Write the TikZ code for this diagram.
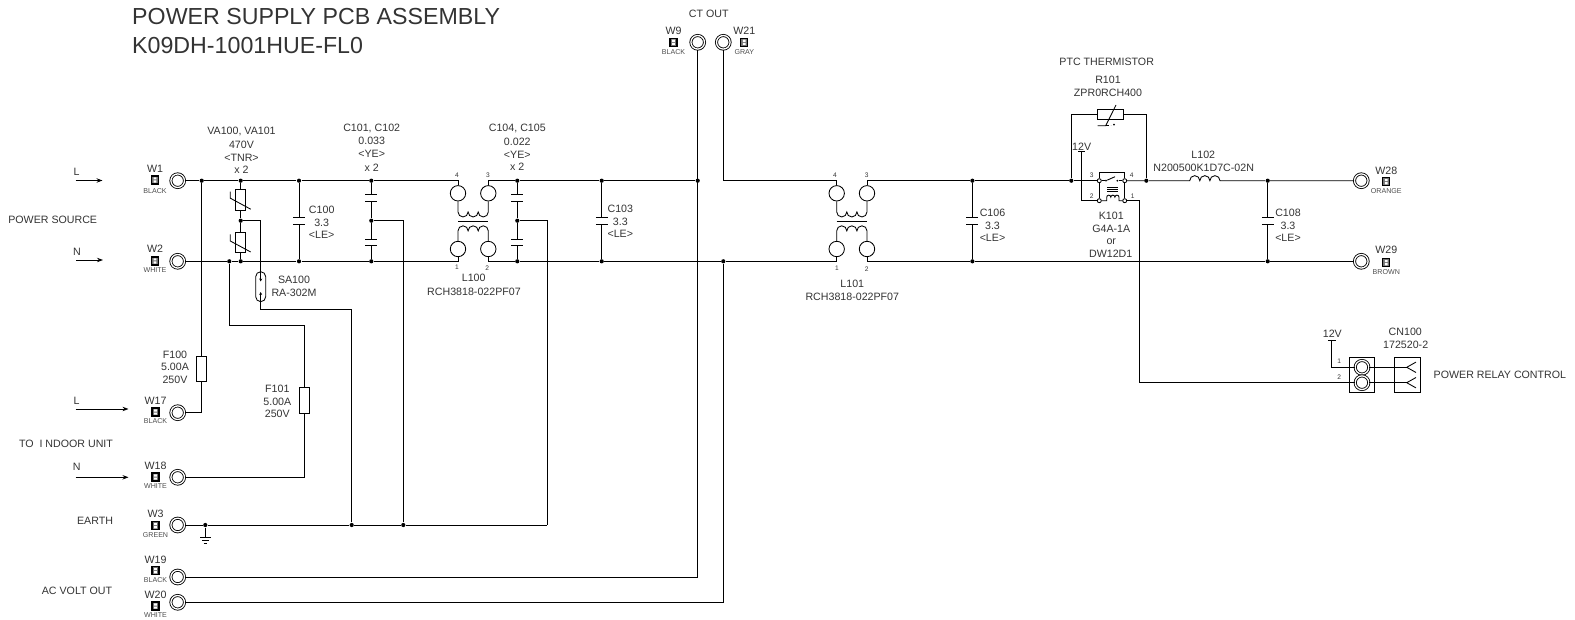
\documentclass[tikz,border=0pt]{standalone}
\usepackage{fontspec}
\setmainfont{Liberation Sans}
\usepackage{tikz}
\usetikzlibrary{
  arrows.meta
}
\tikzset{
  >={Stealth[length=6pt,width=4.4pt]},
  lab/.style = {font=\fontsize{10.65}{12}\selectfont, text=black!80, inner sep=0pt, yshift=-.6pt},
  tinylab/.style = {font=\fontsize{7.1}{8}\selectfont, text=black!70, inner sep=0pt},
  pinlab/.style = {font=\fontsize{6.6}{8}\selectfont, text=black!80, inner sep=0pt},
  titlelab/.style = {font=\fontsize{23.2}{26}\selectfont, text=black!80, inner sep=0pt, anchor=west},
  ring/.style = {circle, draw, fill=white, double, double distance=1.3pt, inner sep=0pt, minimum size=13.6pt},
  choke/.style = {circle, draw, inner sep=0pt, minimum size=15.4pt},
  dot/.style = {circle, fill, inner sep=0pt, minimum size=4.2pt},
  relaypin/.style = {circle, draw, fill=white, inner sep=0pt, minimum size=4pt},
  swpin/.style = {circle, fill, inner sep=0pt, minimum size=2pt},
  tagbox/.style = {rectangle, draw, fill=black!55, line width=1.1pt, inner sep=0pt,
    minimum width=7pt, minimum height=8pt,
    path picture={\fill[white] (path picture bounding box.center) ++(-1.5,-2.6) rectangle ++(2.8,2.1)
      (path picture bounding box.center) ++(-1.5,.5) rectangle ++(2.8,2.1);}},
  fuse/.style = {rectangle, draw, inner sep=0pt, minimum width=10pt, minimum height=25.6pt},
  tnr/.style = {rectangle, draw, inner sep=0pt, minimum width=10.4pt, minimum height=20.6pt},
  ptcbox/.style = {rectangle, draw, inner sep=0pt, minimum width=26pt, minimum height=10pt},
  capsule/.style = {rectangle, draw, rounded corners=5pt, inner sep=0pt, minimum width=10pt, minimum height=30pt},
  capv/.style = {rectangle, inner sep=0pt, minimum width=11pt, minimum height=5.6pt,
    append after command={(\tikzlastnode.north west) edge (\tikzlastnode.north east)
      (\tikzlastnode.south west) edge (\tikzlastnode.south east)}},
  cnbox/.style = {rectangle, draw, inner sep=0pt, minimum width=25.4pt, minimum height=35pt},
}
\newcommand{\wtag}[7]{
  \node[lab] (#1n) at (#2,#3) {#6};
  \node[tagbox] (#1i) at (#2,#4) {};
  \node[tinylab] (#1c) at (#2,#5) {#7};
}
\newcommand{\capnote}[5]{
  \node[lab] (#1a) at (#2,#3-13) {#4};
  \node[lab] (#1b) at (#2,#3) {3.3};
  \node[lab] (#1c) at (#2,#3+12.5) {#5};
}
\newcommand{\humps}{arc[start angle=180,end angle=0,radius=5.05] arc[start angle=180,end angle=0,radius=5.05] arc[start angle=180,end angle=0,radius=5.05]}
\newcommand{\humpsup}{arc[start angle=180,end angle=360,radius=5.05] arc[start angle=180,end angle=360,radius=5.05] arc[start angle=180,end angle=360,radius=5.05]}
\newcommand{\chokewind}[1]{
  \draw (#1a.south) -- ++(0,10.5) \humps -- (#1b.south);
  \draw (#1c.north) -- ++(0,-10) \humpsup -- (#1d.north);
  \draw (#1a) ++(0,27.7) -- ++(30.3,0);
}
\newcommand{\tnrslash}[1]{
  \draw (#1) ++(-10.4,-8) -- ++(0,6.5) -- ++(20.4,11);
}
\begin{document}
\begin{tikzpicture}[x=1pt, y=-1pt, line width=.85pt]
\useasboundingbox (0,0) rectangle (1575,620);
% titles and side notes
\node[titlelab] (title1) at (131.8,17) {POWER SUPPLY PCB ASSEMBLY};
\node[titlelab] (title2) at (131.8,46) {K09DH-1001HUE-FL0};
\node[lab] (source) at (52.7,219.5) {POWER SOURCE};
\node[lab] (indoor) at (66,443) {TO\ \ I NDOOR UNIT};
\node[lab] (earth) at (95,520.5) {EARTH};
\node[lab] (acvolt) at (77,590) {AC VOLT OUT};
\node[lab] (ctout) at (708.7,13.3) {CT OUT};
% input arrows
\node[lab] (l1) at (76.7,171) {L};
\node[lab] (n1l) at (77,251) {N};
\node[lab] (l2) at (76.7,400.5) {L};
\node[lab] (n2l) at (76.7,466.5) {N};
\coordinate (l1s) at (75.5,180.5);
\coordinate (l1e) at (102.5,180.5);
\coordinate (n1s) at (76,260);
\coordinate (n1e) at (103,260);
\coordinate (l2s) at (75.5,409);
\coordinate (l2e) at (128.5,409);
\coordinate (n2s) at (75.5,477.3);
\coordinate (n2e) at (128.5,477.3);
\draw[->] (l1s) -- (l1e);
\draw[->] (n1s) -- (n1e);
\draw[->] (l2s) -- (l2e);
\draw[->] (n2s) -- (n2e);
% terminals
\wtag{t1}{155}{168}{180}{190.7}{W1}{BLACK}
\wtag{t2}{155}{248}{261}{270.3}{W2}{WHITE}
\wtag{t17}{155.5}{400.3}{412}{421}{W17}{BLACK}
\wtag{t18}{155.5}{465.3}{477}{486.3}{W18}{WHITE}
\wtag{t3}{155.5}{513}{525.7}{535.3}{W3}{GREEN}
\wtag{t19}{155.5}{559}{570.7}{580.3}{W19}{BLACK}
\wtag{t20}{155.5}{594.3}{606}{615}{W20}{WHITE}
\wtag{t9}{673.5}{30}{42.3}{52.3}{W9}{BLACK}
\wtag{t21}{744.3}{30}{42.3}{52.3}{W21}{GRAY}
\wtag{t28}{1386.3}{170.3}{181.7}{191}{W28}{ORANGE}
\wtag{t29}{1386.3}{249.3}{262.7}{272.3}{W29}{BROWN}
\node[ring] (w1) at (177.7,180.7) {};
\node[ring] (w2) at (177.7,261.3) {};
\node[ring] (w17) at (177.7,412.7) {};
\node[ring] (w18) at (177.7,477.3) {};
\node[ring] (w3) at (177.7,525) {};
\node[ring] (w19) at (177.7,577) {};
\node[ring] (w20) at (177.7,602.3) {};
\node[ring] (w9) at (697.7,42.3) {};
\node[ring] (w21) at (723.3,42.3) {};
\node[ring] (w28) at (1361.3,180.7) {};
\node[ring] (w29) at (1361.3,261.3) {};
% line junctions
\node[dot] (j1) at (201.7,180.7) {};
\node[dot] (j2) at (240.7,180.7) {};
\node[dot] (j3) at (299,180.7) {};
\node[dot] (j4) at (371.3,180.7) {};
\node[dot] (j5) at (517.3,180.7) {};
\node[dot] (j6) at (601.7,180.7) {};
\node[dot] (j7) at (697.7,180.7) {};
\node[dot] (j8) at (972.4,180.7) {};
\node[dot] (j9) at (1071.3,180.7) {};
\node[dot] (j10) at (1146.3,180.7) {};
\node[dot] (j11) at (1267.7,180.7) {};
\node[dot] (n1) at (229.3,261.3) {};
\node[dot] (n2) at (240.7,261.3) {};
\node[dot] (n3) at (299,261.3) {};
\node[dot] (n4) at (371.3,261.3) {};
\node[dot] (n5) at (517.3,261.3) {};
\node[dot] (n6) at (601.7,261.3) {};
\node[dot] (n7) at (723.3,261.3) {};
\node[dot] (n8) at (972.4,261.3) {};
\node[dot] (n9) at (1267.7,261.3) {};
\node[dot] (vm) at (240.7,220.7) {};
\node[dot] (cm1) at (371.3,220.7) {};
\node[dot] (cm2) at (517.3,220.7) {};
\node[dot] (g1) at (205.3,525) {};
\node[dot] (g2) at (351.7,525) {};
\node[dot] (g3) at (403.3,525) {};
\coordinate (g4) at (547.3,525);
\coordinate (gnd) at (205.3,537.3);
\coordinate (c21) at (723.3,180.7);
\coordinate (f1) at (229.3,325);
\coordinate (sc) at (260.7,309.3);
\coordinate (sa) at (260.7,281.5);
\coordinate (sb) at (260.7,292);
% parts
\node[tnr] (va100) at (240.7,199.7) {};
\node[tnr] (va101) at (240.7,242.5) {};
\node[fuse] (f100) at (201.7,369) {};
\node[fuse] (f101) at (304.7,400.2) {};
\node[capsule] (sa100) at (260.7,286.7) {};
\node[capv] (c100) at (299,221) {};
\node[capv] (c101) at (371.3,198) {};
\node[capv] (c102) at (371.3,242.5) {};
\node[capv] (c104) at (517.3,198) {};
\node[capv] (c105) at (517.3,242.5) {};
\node[capv] (c103) at (601.7,221) {};
\node[capv] (c106) at (972.4,221) {};
\node[capv] (c108) at (1267.7,221) {};
\node[choke] (l100a) at (458,193.3) {};
\node[choke] (l100b) at (488.3,193.3) {};
\node[choke] (l100c) at (458,249) {};
\node[choke] (l100d) at (488.3,249) {};
\node[choke] (l101a) at (836.7,193.3) {};
\node[choke] (l101b) at (867,193.3) {};
\node[choke] (l101c) at (836.7,249) {};
\node[choke] (l101d) at (867,249) {};
\node[ptcbox] (r101) at (1110.7,114.3) {};
\node[relaypin] (k3) at (1099.3,180.7) {};
\node[relaypin] (k4) at (1124.7,180.7) {};
\node[relaypin] (k2) at (1099.3,200.7) {};
\node[relaypin] (k1) at (1124.7,200.7) {};
\node[swpin] (sw1) at (1106,180.7) {};
\node[swpin] (sw2) at (1117.3,180.7) {};
\coordinate (rc1) at (1106.7,200.7);
\coordinate (rc2) at (1119,200.7);
\coordinate (kc) at (1139.3,200.7);
\coordinate (v12a) at (1081.7,151);
\coordinate (v12b) at (1331.7,340);
\coordinate (l102a) at (1189.7,180.7);
\coordinate (l102b) at (1220,180.7);
\node[cnbox] (cn100) at (1362.2,374.8) {};
\node[cnbox] (plug) at (1407.5,374.8) {};
\node[ring] (cn1) at (1362,367.3) {};
\node[ring] (cn2) at (1362,382.7) {};
\coordinate (fk1) at (1406.7,367.3);
\coordinate (fk2) at (1406.7,382.7);
% upper line
\draw (w1) -- (j1) -- (j2) -- (j3) -- (j4) -| (l100a);
\draw (l100b) |- (j5) -- (j6) -- (j7);
\draw (w21) -- (c21) -| (l101a);
\draw (l101b) |- (j8) -- (j9) -- (k3);
\draw (k4) -- (j10) -- (l102a) \humpsup -- (l102b) -- (j11) -- (w28);
% lower line
\draw (w2) -- (n1) -- (n2) -- (n3) -- (n4) -| (l100c);
\draw (l100d) |- (n5) -- (n6) -- (n7) -| (l101c);
\draw (l101d) |- (n8) -- (n9) -- (w29);
% windings
\chokewind{l100}
\chokewind{l101}
% shunt parts
\draw (j2) -- (va100) -- (vm) -- (va101) -- (n2);
\tnrslash{va100}
\tnrslash{va101}
\draw (j3) -- (c100) -- (n3);
\draw (j4) -- (c101) -- (cm1) -- (c102) -- (n4);
\draw (j5) -- (c104) -- (cm2) -- (c105) -- (n5);
\draw (j6) -- (c103) -- (n6);
\draw (j8) -- (c106) -- (n8);
\draw (j11) -- (c108) -- (n9);
% outlets
\draw (j1) -- (f100) |- (w17);
\draw (n1) -- (f1) -| (f101) |- (w18);
\draw (w9) |- (w19);
\draw (n7) |- (w20);
\draw (w3) -- (g1) -- (g2) -- (g3) -- (g4);
\draw (g1) -- (gnd);
\draw (gnd) ++(-5.3,0) -- ++(10.6,0) ++(-8.6,3.4) -- ++(6.6,0) ++(-4.8,2.6) -- ++(3,0);
\draw (cm1) -| (g3);
\draw (cm2) -| (g4);
% surge absorber
\draw[-{Stealth[length=3pt,width=3pt]}] (vm) -| (sa);
\draw[-{Stealth[length=3pt,width=3pt]}] (g2) |- (sc) -- (sb);
% thermistor
\draw (j9) |- (r101);
\draw (r101) -| (j10);
\draw (r101) ++(-13,11.4) -- ++(8,0) -- ++(10.3,-20.7);
\draw[densely dashed] (r101) ++(-5,11.4) -- ++(5,0);
\node[swpin] (r101d) at (1114,124.7) {};
% relay
\draw (k3.north) -- ++(0,-6) -| (k4.north);
\draw (k2) -- (k3);
\draw (k1) -- (k4);
\draw (k3) -- (sw1);
\draw (sw2) -- (k4);
\draw (sw1) -- ++(9,-4);
\draw[line width=.6pt] (1107,187) -- (1118,187) (1107,189.2) -- (1118,189.2) (1107,191.4) -- (1118,191.4);
\draw (k2) -- (rc1) -- ++(0,-3.5) arc[start angle=180,end angle=360,radius=2.05] arc[start angle=180,end angle=360,radius=2.05] arc[start angle=180,end angle=360,radius=2.05] -- (rc2) -- (k1);
\draw (k1) -- (kc) |- (cn2);
% control connector
\draw (v12a) ++(-3.7,0) -- ++(7.4,0);
\draw (v12a) |- (k2);
\draw (v12b) ++(-3.9,0) -- ++(7.8,0);
\draw (v12b) |- (cn1);
\draw (cn1) -- (fk1);
\draw (cn2) -- (fk2);
\draw (fk1) -- ++(9.3,-5.2) (fk1) -- ++(9.3,5.2);
\draw (fk2) -- ++(9.3,-5.2) (fk2) -- ++(9.3,5.2);
% part labels
\node[lab] (va100a) at (241.5,131) {VA100, VA101};
\node[lab] (va100b) at (241.5,144) {470V};
\node[lab] (va100c) at (241.5,157.3) {<TNR>};
\node[lab] (va100d) at (241.5,169.3) {x 2};
\node[lab] (c101a) at (371.7,127.6) {C101, C102};
\node[lab] (c101b) at (371.7,140.7) {0.033};
\node[lab] (c101c) at (371.7,153.3) {<YE>};
\node[lab] (c101d) at (371.7,166.7) {x 2};
\node[lab] (c104a) at (517.3,128.3) {C104, C105};
\node[lab] (c104b) at (517.3,141.3) {0.022};
\node[lab] (c104c) at (517.3,154) {<YE>};
\node[lab] (c104d) at (517.3,166.3) {x 2};
\capnote{c100t}{321.7}{222}{C100}{<LE>}
\capnote{c103t}{620.3}{221}{C103}{<LE>}
\capnote{c106t}{992.5}{225}{C106}{<LE>}
\capnote{c108t}{1288}{225}{C108}{<LE>}
\node[lab] (sa100a) at (294,279) {SA100};
\node[lab] (sa100b) at (294,292) {RA-302M};
\node[lab] (f100a) at (175,354) {F100};
\node[lab] (f100b) at (175,366) {5.00A};
\node[lab] (f100c) at (175,379) {250V};
\node[lab] (f101a) at (277.3,388.3) {F101};
\node[lab] (f101b) at (277.3,401) {5.00A};
\node[lab] (f101c) at (277.3,413) {250V};
\node[lab] (l100t) at (473.7,277.7) {L100};
\node[lab] (l100m) at (474,291) {RCH3818-022PF07};
\node[lab] (l101t) at (852.3,283) {L101};
\node[lab] (l101m) at (852.3,296) {RCH3818-022PF07};
\node[pinlab] (p4) at (457,175.7) {4};
\node[pinlab] (p3) at (488,175.7) {3};
\node[pinlab] (p1) at (457,267.7) {1};
\node[pinlab] (p2) at (487.3,267.7) {2};
\node[pinlab] (q4) at (835,175.7) {4};
\node[pinlab] (q3) at (866.7,175.7) {3};
\node[pinlab] (q1) at (837,268.7) {1};
\node[pinlab] (q2) at (866.7,268.7) {2};
\node[lab] (ptclab) at (1106.7,61) {PTC THERMISTOR};
\node[lab] (r101t) at (1108,79.3) {R101};
\node[lab] (r101m) at (1108,92.3) {ZPR0RCH400};
\node[lab] (v12t) at (1081.7,145.7) {12V};
\node[lab] (v12u) at (1332.3,332.7) {12V};
\node[pinlab] (k3t) at (1091.7,175.3) {3};
\node[pinlab] (k4t) at (1131.7,175.3) {4};
\node[pinlab] (k2t) at (1091.7,196) {2};
\node[pinlab] (k1t) at (1132.7,196) {1};
\node[lab] (k101a) at (1111.3,215.3) {K101};
\node[lab] (k101b) at (1111.3,228.3) {G4A-1A};
\node[lab] (k101c) at (1111.3,240.7) {or};
\node[lab] (k101d) at (1110.7,253.3) {DW12D1};
\node[lab] (l102t) at (1203.3,154.3) {L102};
\node[lab] (l102m) at (1203.7,167.3) {N200500K1D7C-02N};
\node[lab] (cn100a) at (1405.3,331) {CN100};
\node[lab] (cn100b) at (1405.7,344.7) {172520-2};
\node[pinlab] (cn1t) at (1339.3,361.7) {1};
\node[pinlab] (cn2t) at (1339.3,376.7) {2};
\node[lab, anchor=west] (relayctl) at (1433.3,374.3) {POWER RELAY CONTROL};
\end{tikzpicture}
\end{document}
